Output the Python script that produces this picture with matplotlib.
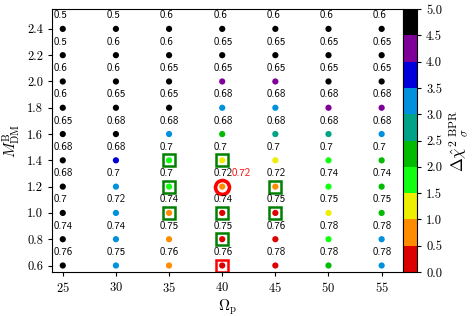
import numpy as np
import matplotlib
matplotlib.use('Agg')
from matplotlib import pyplot as plt
from matplotlib.colors import ListedColormap, BoundaryNorm

plt.rcParams['font.family'] = 'cmr10'
plt.rcParams['mathtext.fontset'] = 'cm'
plt.rcParams['axes.formatter.use_mathtext'] = True

# grid of models
omega_p = [25, 30, 35, 40, 45, 50, 55]
m_dm = [0.6, 0.8, 1.0, 1.2, 1.4, 1.6, 1.8, 2.0, 2.2, 2.4]

# delta chi2 per (row = m_dm, column = omega_p), estimated from the colour bins
dchi2 = [
    [5.0, 3.2, 0.7, 0.2, 0.3, 2.2, 3.2],
    [5.0, 3.2, 0.7, 0.3, 0.4, 1.8, 3.1],
    [5.0, 3.1, 0.6, 0.3, 0.4, 1.2, 2.1],
    [5.0, 3.3, 1.6, 0.6, 0.8, 1.7, 2.2],
    [5.0, 3.7, 1.7, 1.1, 1.3, 1.8, 2.3],
    [5.0, 5.0, 3.2, 2.4, 2.7, 2.8, 3.3],
    [5.0, 5.0, 5.0, 3.3, 3.4, 4.1, 4.2],
    [5.0, 5.0, 5.0, 4.3, 4.4, 5.0, 5.0],
    [5.0, 5.0, 5.0, 5.0, 5.0, 5.0, 5.0],
    [5.0, 5.0, 5.0, 5.0, 5.0, 5.0, 5.0],
]

# value written above each point
point_labels = [
    ['0.76', '0.75', '0.76', '0.76', '0.78', '0.78', '0.78'],
    ['0.74', '0.74', '0.75', '0.75', '0.76', '0.78', '0.78'],
    ['0.7', '0.72', '0.74', '0.74', '0.75', '0.75', '0.75'],
    ['0.68', '0.7', '0.7', '0.72', '0.72', '0.74', '0.74'],
    ['0.68', '0.68', '0.7', '0.7', '0.7', '0.7', '0.7'],
    ['0.65', '0.68', '0.68', '0.68', '0.68', '0.68', '0.68'],
    ['0.6', '0.65', '0.65', '0.68', '0.68', '0.68', '0.68'],
    ['0.6', '0.6', '0.65', '0.65', '0.65', '0.65', '0.65'],
    ['0.5', '0.6', '0.6', '0.65', '0.65', '0.65', '0.65'],
    ['0.5', '0.5', '0.6', '0.6', '0.6', '0.6', '0.6'],
]

# highlighted models
good_x = [35, 40, 35, 45, 35, 40, 45, 40]
good_y = [1.4, 1.4, 1.2, 1.2, 1.0, 1.0, 1.0, 0.8]
best_x, best_y = [40], [0.6]
ref_x, ref_y, ref_label = 40, 1.2, '0.72'

bin_colors = ['#dd0000', '#ff8c00', '#eeee00', '#11ff11', '#00bb00',
              '#00a388', '#0090dd', '#0000dd', '#7f0099', '#000000']
bounds = np.arange(0, 5.01, 0.5)
cmap = ListedColormap(bin_colors)
norm = BoundaryNorm(bounds, cmap.N)

X, Y = np.meshgrid(omega_p, m_dm)
Z = np.array(dchi2)

fig = plt.figure(figsize=(4.74, 3.16), dpi=100)
ax = fig.add_axes([0.110, 0.139, 0.740, 0.832])
cax = fig.add_axes([0.850, 0.139, 0.030, 0.832])

ax.plot(good_x, good_y, 's', ms=8.5, mfc='none', mec='#008000', mew=1.8, zorder=2)
ax.plot(best_x, best_y, 's', ms=8.5, mfc='none', mec='#ff0000', mew=1.8, zorder=2)
ax.plot([ref_x], [ref_y], 'o', ms=10, mfc='none', mec='#ff0000', mew=2.6, zorder=2)

sc = ax.scatter(X.ravel(), Y.ravel(), c=np.minimum(Z.ravel(), 4.99), cmap=cmap,
                norm=norm, s=20, zorder=3, linewidths=0)

for i, yv in enumerate(m_dm):
    for j, xv in enumerate(omega_p):
        ax.text(xv - 0.85, yv + 0.065, point_labels[i][j], fontsize=7.8,
                family='cmss10', ha='left', va='bottom', zorder=4)
ax.text(ref_x + 0.9, ref_y + 0.065, ref_label, fontsize=7.8, family='cmss10',
        color='#ff0000', ha='left', va='bottom', zorder=4)

ax.set_xlim(24, 57)
ax.set_ylim(0.55, 2.55)
ax.set_xticks(omega_p)
ax.set_yticks(m_dm)
ax.set_yticklabels(['%.1f' % v for v in m_dm])
ax.tick_params(direction='out', length=3, labelsize=9)
ax.set_xlabel(r'$\Omega_{\rm p}$', fontsize=11, labelpad=2)
ax.set_ylabel(r'$M_{\rm DM}^{\rm B}$', fontsize=11, labelpad=3)

cb = fig.colorbar(sc, cax=cax, ticks=bounds)
cb.ax.set_yticklabels(['%.1f' % v for v in bounds])
cb.ax.tick_params(labelsize=9, length=3)
cb.set_label(r'$\Delta\hat{\chi}^{2}\,{}^{\rm BPR}_{\sigma}$', fontsize=12)

fig.savefig('out.png', dpi=100)
